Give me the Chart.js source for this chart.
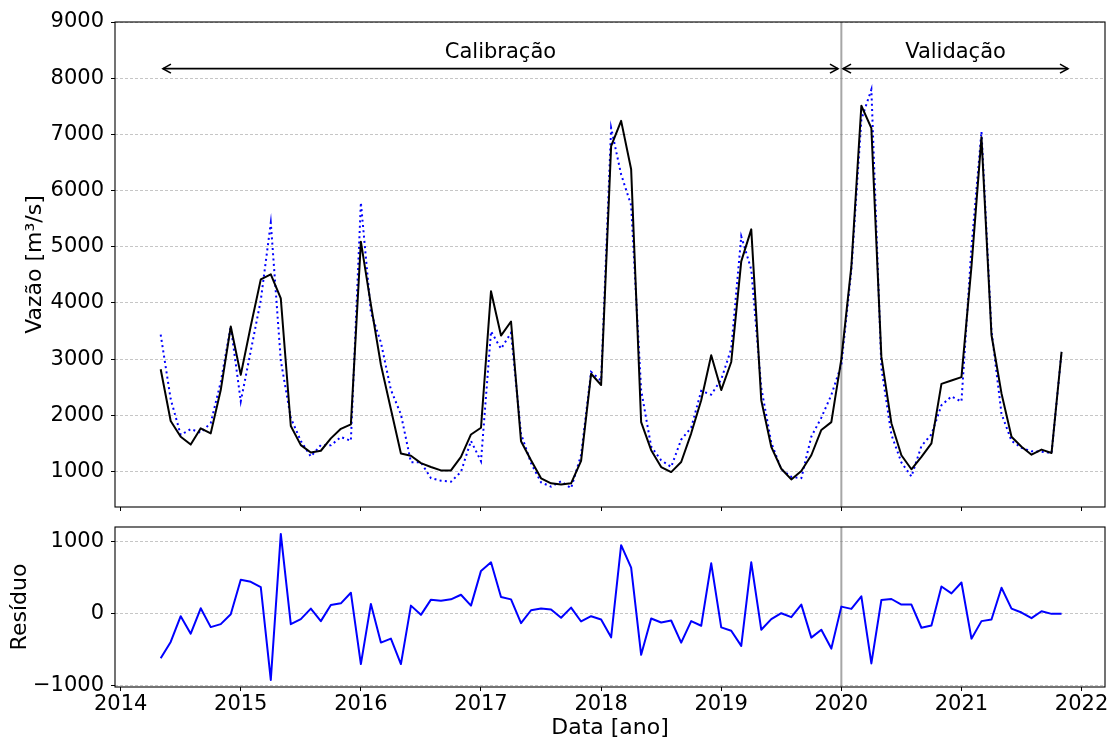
<!DOCTYPE html>
<html><head><meta charset="utf-8">
<script src="https://cdn.jsdelivr.net/npm/chart.js@4.4.0/dist/chart.umd.min.js"></script>
<style>
html,body{margin:0;padding:0;background:#fff;}
#wrap{position:relative;width:1110px;height:740px;background:#fff;}
canvas{position:absolute;left:0;top:0;}
</style></head><body>
<div id="wrap"><canvas id="top" width="1110" height="740"></canvas><canvas id="bot" width="1110" height="740"></canvas></div>
<script>
// ---- data (monthly, Apr 2014 .. Oct 2021) ----
const firstMonth = '2014-04';
const nMonths = 91;
const observed = [2820,1900,1620,1480,1770,1680,2450,3580,2720,3590,
  4420,4510,4080,1810,1470,1340,1370,1590,1760,1840,
  5090,3970,2900,2110,1320,1280,1150,1080,1020,1020,
  1260,1660,1780,4210,3420,3670,1540,1200,880,790,
  770,790,1190,2740,2540,6790,7240,6380,1880,1380,
  1080,990,1170,1680,2270,3070,2450,2950,4740,5310,
  2270,1440,1050,860,1010,1290,1740,1880,3000,4650,
  7510,7110,3040,1860,1290,1040,1260,1500,2560,2620,
  2680,4650,6950,3430,2390,1620,1440,1300,1390,1330,
  3130];
const simulated = [3435,2290,1653,1755,1693,1864,2593,3585,2248,3146,
  4049,5427,2971,1953,1544,1267,1471,1466,1614,1547,
  5787,3832,3299,2454,2017,1166,1164,883,837,819,
  995,1546,1184,3495,3186,3469,1669,1150,807,731,
  825,703,1296,2773,2618,7116,6287,5739,2449,1445,
  1200,1082,1569,1781,2435,2369,2638,3184,5185,4595,
  2490,1514,1041,906,882,1620,1960,2362,2900,4581,
  7267,7798,2848,1654,1162,912,1453,1661,2180,2336,
  2245,4994,7051,3508,2028,1547,1422,1360,1354,1330,
  3130];
const residual = [-615,-390,-33,-275,77,-184,-143,-5,472,444,
  371,-917,1109,-143,-74,73,-101,124,146,293,
  -697,138,-399,-344,-697,114,-14,197,183,201,
  265,114,596,715,234,201,-129,50,73,59,
  -55,87,-106,-33,-78,-326,953,641,-569,-65,
  -120,-92,-399,-101,-165,701,-188,-234,-445,715,
  -220,-74,9,-46,128,-330,-220,-482,100,69,
  243,-688,192,206,128,128,-193,-161,380,284,
  435,-344,-101,-78,362,73,18,-60,36,0,
  0];
const yearTicks = [2014,2015,2016,2017,2018,2019,2020,2021,2022];
const flowTicks = [1000,2000,3000,4000,5000,6000,7000,8000,9000];
const residTicks = [-1000,0,1000];
const splitYear = 2020;
const periodLabels = ['Calibração','Validação'];

// month labels -> decimal year (month end)
const months = [];
{ let [yy, mm] = firstMonth.split('-').map(Number);
  while (months.length < nMonths) { months.push(yy + '-' + String(mm).padStart(2,'0')); mm++; if (mm > 12) { mm = 1; yy++; } } }
const decYear = s => { const [yy, mm] = s.split('-').map(Number); return yy + mm / 12; };
const xs = months.map(decYear);
const pts = arr => arr.map((v, i) => ({x: xs[i], y: v}));

// ---- styling ----
Chart.defaults.font.family = "'DejaVu Sans', sans-serif";
Chart.defaults.font.size = 21;
Chart.defaults.color = '#000';
Chart.defaults.animation = false;
const XMIN = 2013.953, XMAX = 2022.195;
const minus = v => (v < 0 ? '\u2212' + Math.abs(v) : String(v));
const titleFont = {size: 22, lineHeight: 1};

const frame = { id: 'frame', afterDraw(c) {
  const {ctx, chartArea: a} = c;
  ctx.save(); ctx.strokeStyle = '#000'; ctx.lineWidth = 1.1;
  ctx.strokeRect(a.left, a.top, a.right - a.left, a.bottom - a.top);
  ctx.restore(); } };
const vline = { id: 'vline', beforeDatasetsDraw(c) {
  const {ctx, chartArea: a, scales: {x}} = c;
  const px = x.getPixelForValue(splitYear);
  ctx.save(); ctx.strokeStyle = 'rgba(128,128,128,0.7)'; ctx.lineWidth = 2;
  ctx.beginPath(); ctx.moveTo(px, a.top); ctx.lineTo(px, a.bottom); ctx.stroke(); ctx.restore(); } };
const arrowY = 8170, textY = 8460;
const spans = [[2014.352, 2019.972], [2020.014, 2021.887]];
const annot = { id: 'annot', afterDatasetsDraw(c) {
  const {ctx, scales: {x, y}} = c;
  ctx.save(); ctx.strokeStyle = '#000'; ctx.fillStyle = '#000'; ctx.lineWidth = 1.6;
  const py = y.getPixelForValue(arrowY);
  spans.forEach((s, k) => {
    const x0 = x.getPixelForValue(s[0]), x1 = x.getPixelForValue(s[1]);
    ctx.beginPath(); ctx.moveTo(x0, py); ctx.lineTo(x1, py); ctx.stroke();
    ctx.beginPath();
    ctx.moveTo(x0 + 8, py - 4.5); ctx.lineTo(x0, py); ctx.lineTo(x0 + 8, py + 4.5);
    ctx.moveTo(x1 - 8, py - 4.5); ctx.lineTo(x1, py); ctx.lineTo(x1 - 8, py + 4.5);
    ctx.stroke();
    ctx.font = "21px 'DejaVu Sans'"; ctx.textAlign = 'center'; ctx.textBaseline = 'middle';
    ctx.fillText(periodLabels[k], (x0 + x1) / 2, y.getPixelForValue(textY));
  });
  ctx.restore(); } };

const gridY = {color: '#b8b8b8', lineWidth: 0.8, drawTicks: true, tickLength: 4, tickColor: '#000', tickWidth: 1};
const gridX = {drawOnChartArea: false, drawTicks: true, tickLength: 4, tickColor: '#000', tickWidth: 1, color: '#000'};

new Chart(document.getElementById('top'), {
  type: 'line',
  data: { datasets: [
    {label: 'Observada', data: pts(observed), borderColor: '#000', borderWidth: 2, pointRadius: 0, tension: 0, fill: false, borderJoinStyle: 'round'},
    {label: 'Simulada', data: pts(simulated), borderColor: '#0000ff', borderWidth: 2, borderDash: [2, 3.3], pointRadius: 0, tension: 0, fill: false}
  ]},
  options: {
    responsive: false, animation: false, events: [],
    layout: {padding: {left: 0, right: 5, top: 22, bottom: 0}},
    plugins: {legend: {display: false}, tooltip: {enabled: false}},
    scales: {
      x: {type: 'linear', min: XMIN, max: XMAX,
          afterBuildTicks: s => { s.ticks = yearTicks.map(v => ({value: v})); },
          ticks: {display: false}, grid: gridX, border: {display: false},
          afterFit: s => { s.height = 233; }},
      y: {type: 'linear', min: 369, max: 9000,
          afterBuildTicks: s => { s.ticks = flowTicks.map(v => ({value: v})); },
          ticks: {padding: 7, callback: v => minus(v)}, grid: gridY,
          border: {display: false, dash: [3, 2]},
          title: {display: true, text: 'Vazão [m³/s]', font: titleFont, padding: {top: 24, bottom: 0}},
          afterFit: s => { s.width = 115; }}
    }
  },
  plugins: [vline, frame, annot]
});

new Chart(document.getElementById('bot'), {
  type: 'line',
  data: { datasets: [
    {label: 'Resíduo', data: pts(residual), borderColor: '#0000ff', borderWidth: 2, pointRadius: 0, tension: 0, fill: false, borderJoinStyle: 'round'}
  ]},
  options: {
    responsive: false, animation: false, events: [],
    layout: {padding: {left: 0, right: 5, top: 527, bottom: 0}},
    plugins: {legend: {display: false}, tooltip: {enabled: false}},
    scales: {
      x: {type: 'linear', min: XMIN, max: XMAX,
          afterBuildTicks: s => { s.ticks = yearTicks.map(v => ({value: v})); },
          ticks: {padding: 1, maxRotation: 0, callback: v => String(v)}, grid: gridX, border: {display: false},
          title: {display: true, text: 'Data [ano]', font: titleFont, padding: {top: 0, bottom: 1}},
          afterFit: s => { s.height = 53; }},
      y: {type: 'linear', min: -1015, max: 1205,
          afterBuildTicks: s => { s.ticks = residTicks.map(v => ({value: v})); },
          ticks: {padding: 7, callback: v => minus(v)}, grid: gridY,
          border: {display: false, dash: [3, 2]},
          title: {display: true, text: 'Resíduo', font: titleFont, padding: {top: 9, bottom: 0}},
          afterFit: s => { s.width = 115; }}
    }
  },
  plugins: [vline, frame]
});
</script>
</body></html>
